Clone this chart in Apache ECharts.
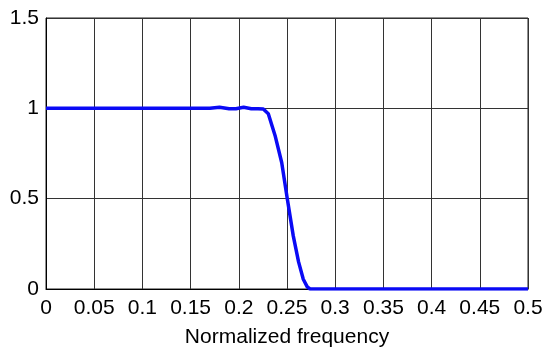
<!DOCTYPE html>
<html>
<head>
<meta charset="utf-8">
<script src="https://cdn.jsdelivr.net/npm/echarts@6/dist/echarts.min.js"></script>
<style>html,body{margin:0;padding:0;background:#fff}#c{width:550px;height:354px}</style>
</head>
<body>
<div id="c"></div>
<script>
const freq = [0, 0.05, 0.1, 0.15, 0.17, 0.18, 0.19, 0.197, 0.205, 0.213, 0.22, 0.2254, 0.2306, 0.2376, 0.2445, 0.2503, 0.2565, 0.2620, 0.2669, 0.2710, 0.2739, 0.30, 0.35, 0.40, 0.45, 0.5];
const magnitude = [1, 1, 1, 1, 1, 1.006, 0.998, 0.998, 1.006, 0.998, 0.998, 0.996, 0.97, 0.85, 0.70, 0.50, 0.294, 0.15, 0.054, 0.012, 0, 0, 0, 0, 0, 0];
const xTicks = [0, 0.05, 0.1, 0.15, 0.2, 0.25, 0.3, 0.35, 0.4, 0.45, 0.5];
const yTicks = [0, 0.5, 1, 1.5];
const xName = 'Normalized frequency';

const chart = echarts.init(document.getElementById('c'), null, {renderer: 'canvas'});
const font = 'Liberation Sans, Arial, sans-serif';
chart.setOption({
  animation: false,
  grid: {left: 46, right: 22, top: 18, bottom: 65, show: true, borderColor: '#222', borderWidth: 1},
  xAxis: {
    type: 'value', min: xTicks[0], max: xTicks[xTicks.length - 1], interval: 0.05,
    name: xName, nameLocation: 'middle', nameGap: 38,
    nameTextStyle: {fontFamily: font, fontSize: 21, color: '#000'},
    axisLine: {show: true, lineStyle: {color: '#000', width: 1}},
    axisTick: {show: false},
    axisLabel: {fontFamily: font, fontSize: 21, color: '#000', margin: 9,
      formatter: v => String(+v.toFixed(2))},
    splitLine: {show: true, lineStyle: {color: '#333', width: 1}}
  },
  yAxis: {
    type: 'value', min: yTicks[0], max: yTicks[yTicks.length - 1], interval: 0.5,
    axisLine: {show: true, lineStyle: {color: '#000', width: 1}},
    axisTick: {show: false},
    axisLabel: {fontFamily: font, fontSize: 21, color: '#000', margin: 7,
      formatter: v => String(+v.toFixed(2))},
    splitLine: {show: true, lineStyle: {color: '#333', width: 1}}
  },
  series: [{
    type: 'line',
    data: freq.map((f, i) => [f, magnitude[i]]),
    showSymbol: false,
    lineStyle: {color: '#0a0af5', width: 3.5},
    smooth: false
  }]
});
</script>
</body>
</html>
